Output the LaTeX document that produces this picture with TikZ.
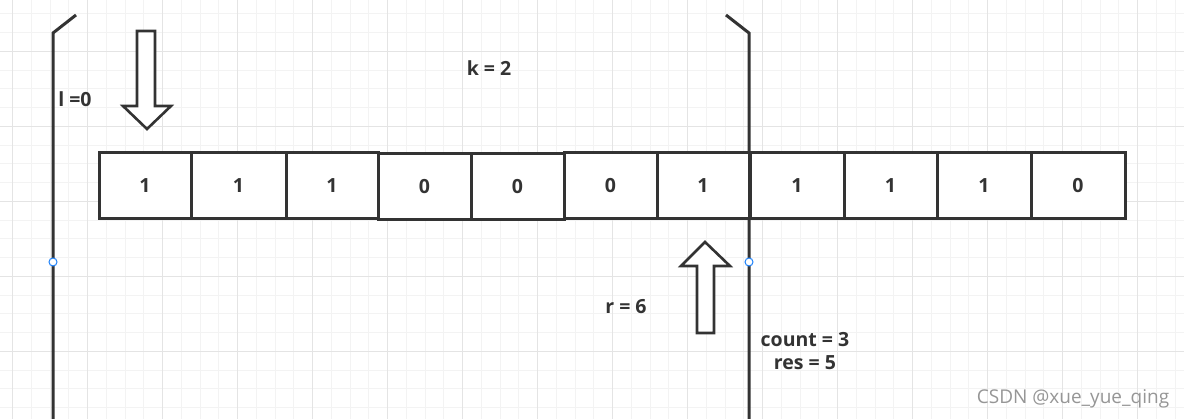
\documentclass[tikz,border=0pt]{standalone}
\usepackage{fontspec}
\setmainfont{Open Sans}
\usetikzlibrary{positioning}
\definecolor{InkGray}{RGB}{51,51,51}
\definecolor{GridMinor}{RGB}{243,243,243}
\definecolor{GridMajor}{RGB}{228,228,228}
\definecolor{HandleBlue}{RGB}{30,130,250}
\definecolor{MarkGray}{RGB}{150,150,150}

\begin{document}
\begin{tikzpicture}[x=1pt, y=-1pt,
  every node/.style={font=\fontsize{19.5}{22}\selectfont\bfseries, text=InkGray, inner sep=0pt},
  cell/.style={draw=InkGray, line width=3pt, minimum height=66pt, fill=white},
  bound/.style={draw=InkGray, line width=3pt},
  blockarrow/.style={draw=InkGray, line width=2.6pt, fill=white, line join=miter},
  handle/.style={draw=HandleBlue, line width=1pt, fill=white}]
\useasboundingbox (0,0) rectangle (1184,419);
\fill[white] (0,0) rectangle (1184,419);

% background grid
\foreach \i in {0,...,63}
  \draw[GridMinor, line width=1pt] ({-6.25+18.75*\i},0) -- ({-6.25+18.75*\i},419);
\foreach \j in {0,...,22}
  \draw[GridMinor, line width=1pt] (0,{14+18.75*\j}) -- (1184,{14+18.75*\j});
\foreach \i in {0,...,15}
  \draw[GridMajor, line width=1pt] ({12.5+75*\i},0) -- ({12.5+75*\i},419);
\foreach \j in {0,...,4}
  \draw[GridMajor, line width=1pt] (0,{51.5+75*\j}) -- (1184,{51.5+75*\j});

% the window bounds
\draw[bound] (76,15) -- (53,33) -- (53,419);
\draw[bound] (726,15) -- (749,33) -- (749,419);

% the array
\foreach \n/\cx/\cy/\w/\v in {1/145/185.5/92/1, 2/238.5/185.5/95/1, 3/332/185.5/92/1,
    4/424.5/187/93/0, 5/517.5/186.5/93/0, 6/610.5/185.5/93/0, 7/703/185.5/92/1,
    8/797/186/94/1, 9/890.5/186/93/1, 10/984/186/94/1, 11/1078/186/94/0}
  \node[cell, minimum width=\w pt] (c\n) at (\cx,\cy) {\v};

% pointers
\draw[blockarrow] (137,31) -- (155,31) -- (155,106) -- (171,106) -- (147,129)
  -- (123,106) -- (137,106) -- cycle;
\draw[blockarrow] (697,333) -- (714,333) -- (714,266) -- (730,266) -- (705,242)
  -- (681,266) -- (697,266) -- cycle;

\draw[handle] (53,262) circle (4);
\draw[handle] (749,262) circle (4);

% labels
\node (lpos) at (75,99) {l =0};
\node (kval) at (489,68) {k = 2};
\node (rpos) at (626,307) {r = 6};
\node (cnt) at (805,340) {count = 3};
\node (res) [below=8pt of cnt] {res = 5};
\node[font=\fontsize{19}{22}\selectfont, text=MarkGray] (mark) at (1073,399) {CSDN @xue\_yue\_qing};
\end{tikzpicture}
\end{document}
